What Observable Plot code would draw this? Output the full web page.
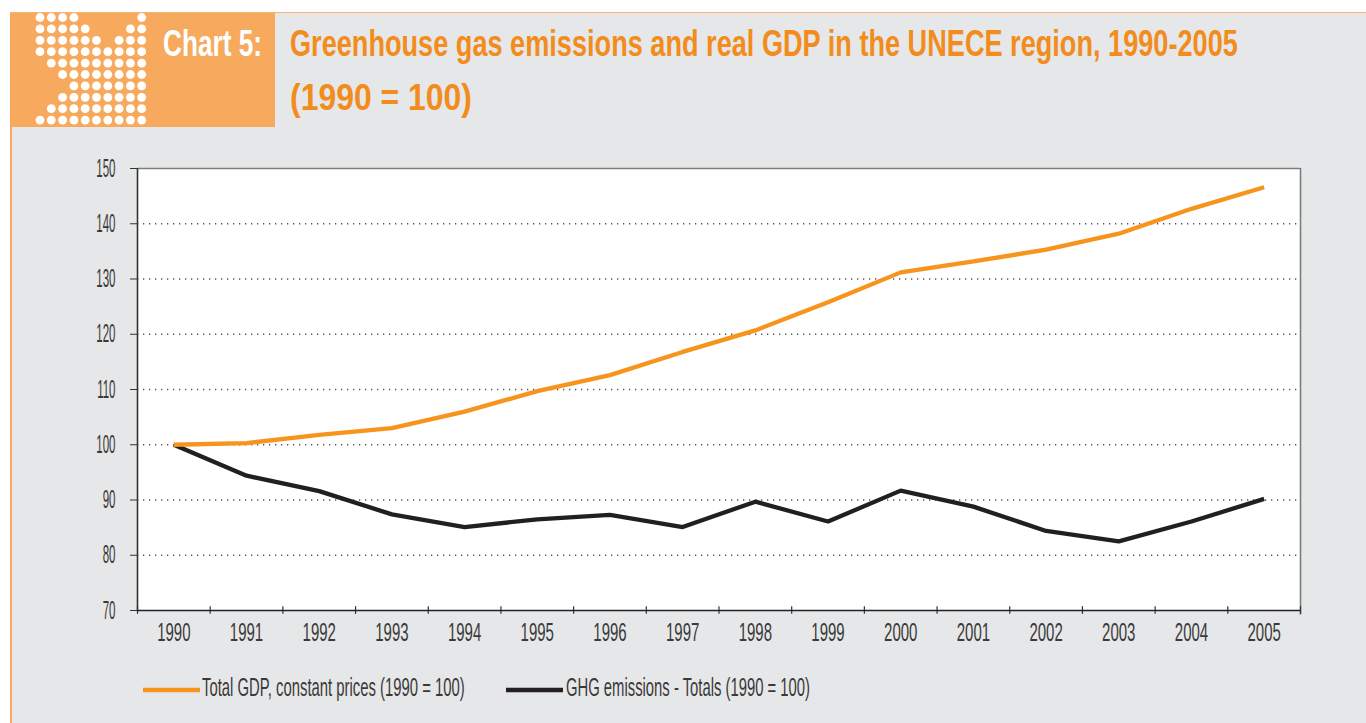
<!DOCTYPE html>
<html>
<head>
<meta charset="utf-8">
<script src="https://cdn.jsdelivr.net/npm/d3@7"></script>
<script src="https://cdn.jsdelivr.net/npm/@observablehq/plot@0.6"></script>
<style>
  html, body { margin: 0; padding: 0; }
  body { width: 1366px; height: 723px; overflow: hidden; position: relative; background: #ffffff;
         font-family: "Liberation Sans", Arial, sans-serif; }
  #frame { position: absolute; left: 10px; top: 12px; width: 1356px; height: 711px; background: #e6e7e8;
           border-top: 1.5px solid #f8b272; border-left: 2.5px solid #f7a95c; box-sizing: border-box; }
  #badge { position: absolute; left: 10px; top: 13px; width: 265px; height: 114px; background: #f7aa5e; }
  svg.overlay { position: absolute; left: 0; top: 0; }
  #chart { position: absolute; left: 0; top: 140px; }
</style>
</head>
<body>
<div id="frame"></div>
<div id="badge"></div>
<svg class="overlay" id="header" width="1366" height="140"></svg>
<div id="chart"></div>
<svg class="overlay" id="legend" width="1366" height="723" style="pointer-events:none"></svg>
<script>
// ---------------- data ----------------
const years = [1990, 1991, 1992, 1993, 1994, 1995, 1996, 1997, 1998, 1999, 2000, 2001, 2002, 2003, 2004, 2005];
const gdpValues = [100, 100.3, 101.8, 103.0, 106.0, 109.7, 112.6, 116.8, 120.7, 125.8, 131.2, 133.2, 135.3, 138.2, 142.7, 146.6];
const ghgValues = [100, 94.4, 91.6, 87.4, 85.1, 86.5, 87.3, 85.1, 89.7, 86.1, 91.7, 88.8, 84.4, 82.5, 86.1, 90.2];
const yTickValues = [70, 80, 90, 100, 110, 120, 130, 140, 150];
const seriesNames = ["Total GDP, constant prices (1990 = 100)", "GHG emissions - Totals  (1990 = 100)"];
const seriesColors = ["#f7941d", "#231f20"];
const titleLabel = "Chart 5:";
const titleLines = ["Greenhouse gas emissions and real GDP in the UNECE region, 1990-2005", "(1990 = 100)"];
const logoRows = [
  "1111000001",
  "1111100011",
  "1111110111",
  "1111111111",
  "0111111111",
  "0011111111",
  "0001111111",
  "0011111111",
  "0111111111",
  "1111111111"
];

const gdpData = years.map((year, i) => ({year, value: gdpValues[i], series: seriesNames[0]}));
const ghgData = years.map((year, i) => ({year, value: ghgValues[i], series: seriesNames[1]}));
const boundaries = [...years.map(y => y - 0.5), years[years.length - 1] + 0.5];
const gridValues = yTickValues.slice(1, -1);
const x0 = years[0] - 0.5, x1 = years[years.length - 1] + 0.5;
const y0 = yTickValues[0], y1 = yTickValues[yTickValues.length - 1];

const NS = "http://www.w3.org/2000/svg";
function svgEl(parent, tag, attrs, text) {
  const e = document.createElementNS(NS, tag);
  for (const k in attrs) e.setAttribute(k, attrs[k]);
  if (text != null) e.textContent = text;
  parent.appendChild(e);
  return e;
}
// text squeezed horizontally to a target width (condensed look)
function fitText(parent, x, y, width, attrs, text) {
  const t = svgEl(parent, "text", Object.assign({x: 0, y: 0}, attrs), text);
  const natural = t.getComputedTextLength();
  t.setAttribute("transform", `translate(${x},${y}) scale(${width / natural},1)`);
  return t;
}

// ---------------- header ----------------
const header = document.getElementById("header");
logoRows.forEach((row, r) => {
  [...row].forEach((c, col) => {
    if (c === "1") svgEl(header, "circle", {cx: 40 + col * 11.3, cy: 17.5 + r * 11.4, r: 4.4, fill: "#ffffff"});
  });
});
const fontStack = "'Liberation Sans', Arial, sans-serif";
const titleAttrs = {"font-family": fontStack, "font-size": 37, "font-weight": "bold"};
fitText(header, 163, 56, 99, Object.assign({fill: "#ffffff"}, titleAttrs), titleLabel);
fitText(header, 290, 56, 948, Object.assign({fill: "#f28c1c"}, titleAttrs), titleLines[0]);
fitText(header, 290, 110, 182, Object.assign({fill: "#f28c1c"}, titleAttrs), titleLines[1]);

// ---------------- chart ----------------
const chart = Plot.plot({
  width: 1366,
  height: 520,
  marginLeft: 137,
  marginRight: 66,
  marginTop: 28,
  marginBottom: 50,
  style: {background: "transparent", fontFamily: fontStack, fontSize: "25px", color: "#3a3a3a", overflow: "visible"},
  x: {domain: [x0, x1]},
  y: {domain: [y0, y1]},
  marks: [
    Plot.frame({fill: "#ffffff", stroke: "none"}),
    Plot.ruleY(gridValues, {stroke: "#555555", strokeWidth: 1.3, strokeDasharray: "1.3,4.7"}),
    Plot.ruleY([y1], {stroke: "#7d7d7d", strokeWidth: 1.4}),
    Plot.ruleX([x1], {y1: y0 - 0.8, y2: y1, stroke: "#7d7d7d", strokeWidth: 1.6}),
    Plot.ruleX(boundaries, {y1: y0 - 0.7, y2: y0 + 0.7, stroke: "#333333", strokeWidth: 1.2}),
    Plot.ruleY([y0], {stroke: "#222222", strokeWidth: 1.4}),
    Plot.ruleX([x0], {stroke: "#333333", strokeWidth: 1.6}),
    Plot.line(ghgData, {x: "year", y: "value", stroke: seriesColors[1], strokeWidth: 4.3, strokeLinejoin: "miter", strokeLinecap: "butt"}),
    Plot.line(gdpData, {x: "year", y: "value", stroke: seriesColors[0], strokeWidth: 4.3, strokeLinejoin: "miter", strokeLinecap: "butt"}),
    Plot.axisY({ticks: yTickValues, tickSize: 7, tickPadding: 15, tickFormat: d => String(d), label: null, stroke: "#333333", fill: "#3a3a3a"}),
    Plot.axisX({ticks: years, tickSize: 0, tickPadding: 13, tickFormat: d => String(d), label: null, fill: "#3a3a3a"})
  ]
});
// condense the axis labels horizontally
chart.querySelectorAll('g[aria-label="x-axis tick label"] text').forEach(t => {
  const tr = t.getAttribute("transform");
  if (tr) t.setAttribute("transform", tr + " scale(0.6,1)");
});
chart.querySelectorAll('g[aria-label="y-axis tick label"] text').forEach(t => {
  const tr = t.getAttribute("transform");
  if (tr) t.setAttribute("transform", tr + " scale(0.46,1)");
});
document.getElementById("chart").appendChild(chart);

// ---------------- legend ----------------
const legend = document.getElementById("legend");
const legendItems = [
  {x: 143, w: 57, textX: 202, textW: 263},
  {x: 506, w: 57, textX: 566, textW: 244}
];
legendItems.forEach((it, i) => {
  svgEl(legend, "line", {x1: it.x, x2: it.x + it.w, y1: 690, y2: 690, stroke: seriesColors[i], "stroke-width": 4.3});
  fitText(legend, it.textX, 696, it.textW, {"font-family": fontStack, "font-size": 25, fill: "#3a3a3a"}, seriesNames[i]);
});
</script>
</body>
</html>
